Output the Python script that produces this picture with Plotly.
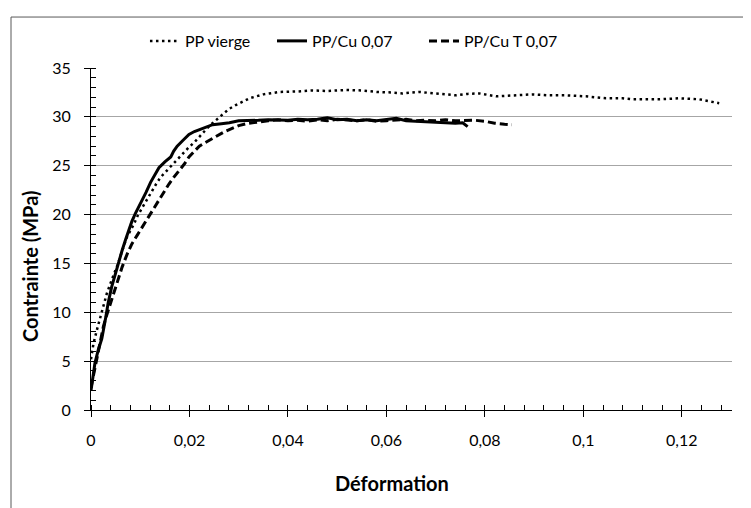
import plotly.graph_objects as go

# ---- Data ----
pp_vierge_x = [0, 0.0005, 0.0012, 0.0022, 0.0032, 0.0042, 0.0055, 0.0064, 0.0073, 0.0087,
               0.0095, 0.0104, 0.0114, 0.0124, 0.0132, 0.0141, 0.0158, 0.0168, 0.0179, 0.0189,
               0.0199, 0.021, 0.022, 0.023, 0.0241, 0.0254, 0.0267, 0.028, 0.0294, 0.031,
               0.0322, 0.035, 0.0383, 0.042, 0.045, 0.048, 0.0519, 0.055, 0.058, 0.061,
               0.0633, 0.0667, 0.070, 0.0742, 0.0765, 0.0789, 0.0823, 0.086, 0.0897, 0.093,
               0.0965, 0.1005, 0.1046, 0.108, 0.11, 0.1154, 0.1194, 0.1235, 0.1276]
pp_vierge_y = [5.2, 6.8, 8.2, 10.2, 11.9, 13.3, 15.0, 16.4, 17.7, 19.0,
               19.9, 20.7, 21.6, 22.4, 23.1, 23.8, 24.7, 25.3, 25.9, 26.4,
               26.9, 27.4, 27.9, 28.5, 29.1, 29.7, 30.3, 30.8, 31.2, 31.6,
               31.9, 32.3, 32.55, 32.6, 32.7, 32.65, 32.75, 32.7, 32.55, 32.5,
               32.4, 32.55, 32.4, 32.2, 32.35, 32.4, 32.1, 32.2, 32.3, 32.2,
               32.2, 32.1, 31.9, 31.9, 31.8, 31.8, 31.9, 31.8, 31.4]

pp_cu_x = [0, 0.0004, 0.0008, 0.0015, 0.0022, 0.003, 0.0035, 0.0042, 0.0049, 0.0056,
           0.0063, 0.007, 0.0076, 0.0083, 0.009, 0.0097, 0.0104, 0.0112, 0.0121, 0.013,
           0.0138, 0.015, 0.0162, 0.0168, 0.0175, 0.0187, 0.0199, 0.021, 0.022, 0.0235,
           0.0247, 0.0265, 0.0281, 0.030, 0.032, 0.034, 0.036, 0.038, 0.040, 0.042,
           0.044, 0.046, 0.048, 0.050, 0.052, 0.054, 0.056, 0.058, 0.060, 0.062,
           0.064, 0.066, 0.068, 0.070, 0.072, 0.074, 0.0755, 0.0765]
pp_cu_y = [2.0, 3.5, 4.8, 6.2, 7.3, 9.5, 11.0, 12.6, 13.9, 15.2,
           16.3, 17.4, 18.4, 19.3, 20.1, 20.8, 21.4, 22.3, 23.3, 24.1,
           24.8, 25.4, 25.9, 26.5, 27.0, 27.6, 28.2, 28.5, 28.7, 29.0,
           29.2, 29.3, 29.4, 29.6, 29.6, 29.65, 29.7, 29.7, 29.65, 29.75,
           29.7, 29.75, 29.9, 29.7, 29.75, 29.6, 29.7, 29.6, 29.75, 29.85,
           29.6, 29.55, 29.5, 29.45, 29.45, 29.35, 29.4, 29.0]

pp_cut_x = [0, 0.0006, 0.0012, 0.0018, 0.0025, 0.003, 0.0035, 0.0046, 0.0055, 0.0063,
            0.0073, 0.0083, 0.0094, 0.0104, 0.0112, 0.0121, 0.0131, 0.0141, 0.015, 0.0158,
            0.0168, 0.0179, 0.019, 0.0199, 0.021, 0.022, 0.023, 0.024, 0.025, 0.026,
            0.027, 0.0281, 0.029, 0.030, 0.032, 0.034, 0.036, 0.038, 0.040, 0.042,
            0.044, 0.046, 0.048, 0.050, 0.052, 0.054, 0.056, 0.058, 0.060, 0.062,
            0.064, 0.066, 0.068, 0.070, 0.072, 0.074, 0.076, 0.078, 0.080, 0.082,
            0.084, 0.0855]
pp_cut_y = [2.3, 3.8, 5.1, 6.8, 8.5, 9.4, 10.2, 11.9, 13.4, 14.6,
            15.9, 17.0, 17.9, 18.7, 19.4, 20.1, 21.0, 21.8, 22.5, 23.1,
            23.8, 24.5, 25.2, 25.9, 26.5, 27.0, 27.3, 27.6, 27.9, 28.2,
            28.45, 28.7, 28.9, 29.1, 29.35, 29.5, 29.6, 29.7, 29.6, 29.65,
            29.55, 29.7, 29.6, 29.75, 29.65, 29.6, 29.7, 29.55, 29.6, 29.7,
            29.75, 29.6, 29.65, 29.6, 29.7, 29.6, 29.65, 29.65, 29.55, 29.35,
            29.25, 29.2]

series_names = ["PP vierge", "PP/Cu 0,07", "PP/Cu T 0,07"]

x_tickvals = [0, 0.02, 0.04, 0.06, 0.08, 0.1, 0.12]
x_ticktext = ["0", "0,02", "0,04", "0,06", "0,08", "0,1", "0,12"]
y_tickvals = [0, 5, 10, 15, 20, 25, 30, 35]
y_ticktext = ["0", "5", "10", "15", "20", "25", "30", "35"]

x_title = "Déformation"
y_title = "Contrainte (MPa)"

FONT = "Lato, 'Open Sans', sans-serif"

fig = go.Figure()
fig.add_trace(go.Scatter(x=pp_vierge_x, y=pp_vierge_y, mode="lines", name=series_names[0],
                         legend="legend",
                         line=dict(color="black", width=2.5, dash="2.5px,3.5px")))
fig.add_trace(go.Scatter(x=pp_cu_x, y=pp_cu_y, mode="lines", name=series_names[1],
                         legend="legend2",
                         line=dict(color="black", width=3)))
fig.add_trace(go.Scatter(x=pp_cut_x, y=pp_cut_y, mode="lines", name=series_names[2],
                         legend="legend3",
                         line=dict(color="black", width=3, dash="8px,4px")))

leg_common = dict(orientation="h", y=1.079, yanchor="middle", xanchor="left",
                  font=dict(size=16, family=FONT, color="black"), bgcolor="rgba(0,0,0,0)",
                  borderwidth=0)

fig.update_layout(
    width=743, height=500,
    margin=dict(l=83, r=19, t=60, b=98),
    paper_bgcolor="white", plot_bgcolor="white",
    font=dict(family=FONT, size=16, color="black"),
    showlegend=True,
    legend=dict(x=0.0842, **leg_common),
    legend2=dict(x=0.2824, **leg_common),
    legend3=dict(x=0.5195, **leg_common),
    xaxis=dict(range=[0, 0.1302], tickvals=x_tickvals, ticktext=x_ticktext,
               showgrid=False, zeroline=False, showline=True, linecolor="black", linewidth=1,
               ticks="outside", ticklen=6, tickcolor="black", ticklabelstandoff=10,
               minor=dict(dtick=0.004, tick0=0, ticks="inside", ticklen=5, tickcolor="black", showgrid=False),
               tickfont=dict(size=16), fixedrange=True),
    yaxis=dict(range=[0, 35], tickvals=y_tickvals, ticktext=y_ticktext,
               showgrid=True, gridcolor="#a6a6a6", gridwidth=1, zeroline=False,
               showline=True, linecolor="black", linewidth=1,
               ticks="outside", ticklen=6, tickcolor="black", ticklabelstandoff=10,
               minor=dict(dtick=1, tick0=0, ticks="inside", ticklen=5, tickcolor="black", showgrid=False),
               tickfont=dict(size=16), fixedrange=True),
    annotations=[
        dict(text="<b>" + x_title + "</b>", xref="paper", yref="paper", x=0.4696, y=-0.2135,
             xanchor="center", yanchor="middle", showarrow=False, font=dict(size=20)),
        dict(text="<b>" + y_title + "</b>", xref="paper", yref="paper", x=-0.0952, y=0.421,
             xanchor="center", yanchor="middle", textangle=-90, showarrow=False, font=dict(size=20)),
    ],
    shapes=[dict(type="rect", xref="paper", yref="paper",
                 x0=-0.1248, x1=1.06, y0=-0.35, y1=1.149,
                 line=dict(color="#595959", width=1), fillcolor="rgba(0,0,0,0)", layer="below")],
)

fig.write_html("out.html")
